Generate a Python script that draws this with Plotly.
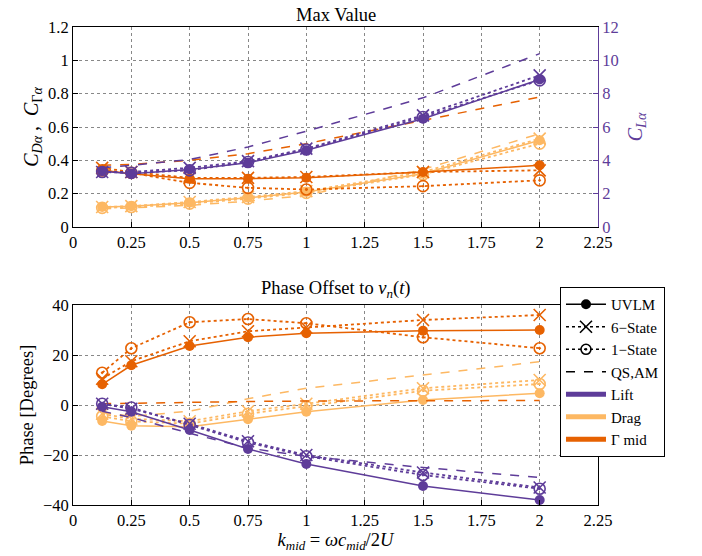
import plotly.graph_objects as go

k = [0.125, 0.25, 0.5, 0.75, 1.0, 1.5, 2.0]

# Max value (top) - lift on right axis (0-12), drag & gamma on left axis (0-1.2)
lift_max_uvlm = [3.35, 3.2, 3.45, 3.85, 4.6, 6.5, 8.85]
lift_max_6s = [3.3, 3.3, 3.55, 3.95, 4.7, 6.7, 9.1]
lift_max_1s = [3.3, 3.25, 3.4, 3.9, 4.65, 6.6, 8.8]
lift_max_qs = [3.55, 3.7, 4.05, 4.8, 5.75, 7.75, 10.4]

gam_max_uvlm = [0.34, 0.32, 0.29, 0.29, 0.295, 0.33, 0.37]
gam_max_6s = [0.355, 0.33, 0.295, 0.295, 0.30, 0.33, 0.34]
gam_max_1s = [0.34, 0.325, 0.265, 0.235, 0.225, 0.245, 0.28]
gam_max_qs = [0.37, 0.375, 0.40, 0.44, 0.50, 0.64, 0.78]

drag_max_uvlm = [0.12, 0.125, 0.145, 0.175, 0.21, 0.32, 0.52]
drag_max_6s = [0.12, 0.125, 0.15, 0.18, 0.215, 0.33, 0.53]
drag_max_1s = [0.115, 0.12, 0.14, 0.17, 0.205, 0.315, 0.50]
drag_max_qs = [0.11, 0.115, 0.13, 0.155, 0.19, 0.345, 0.56]

# Phase offset (bottom), degrees
gam_ph_uvlm = [8.3, 15.9, 23.6, 27.1, 28.7, 29.7, 30.0]
gam_ph_6s = [10.5, 17.5, 25.5, 29.5, 31.0, 34.0, 36.0]
gam_ph_1s = [12.9, 22.7, 33.1, 34.4, 32.7, 27.1, 22.7]
gam_ph_qs = [0.5, 0.7, 1.0, 1.4, 1.6, 1.8, 1.8]

drag_ph_uvlm = [-6.4, -8.3, -8.7, -5.7, -2.7, 2.0, 4.7]
drag_ph_6s = [-3.5, -5.5, -6.5, -2.5, 0.5, 6.7, 10.0]
drag_ph_1s = [-4.5, -6.5, -7.5, -3.5, -0.5, 5.7, 8.4]
drag_ph_qs = [-3.0, -4.5, -2.5, 2.5, 6.7, 12.0, 17.3]

lift_ph_uvlm = [-0.7, -2.7, -10.0, -17.6, -23.6, -32.4, -38.0]
lift_ph_6s = [0.5, -1.5, -7.5, -14.5, -20.0, -27.0, -33.0]
lift_ph_1s = [0.5, -1.0, -8.0, -15.0, -20.5, -28.0, -33.5]
lift_ph_qs = [-2.5, -5.0, -11.3, -17.2, -20.5, -25.0, -29.0]

x_ticks = [0, 0.25, 0.5, 0.75, 1, 1.25, 1.5, 1.75, 2, 2.25]
x_ticklabels = ["0", "0.25", "0.5", "0.75", "1", "1.25", "1.5", "1.75", "2", "2.25"]
yl_ticks = [0, 0.2, 0.4, 0.6, 0.8, 1.0, 1.2]
yl_ticklabels = ["0", "0.2", "0.4", "0.6", "0.8", "1", "1.2"]
yr_ticks = [0, 2, 4, 6, 8, 10, 12]
ph_ticks = [-40, -20, 0, 20, 40]
ph_ticklabels = ["\u221240", "\u221220", "0", "20", "40"]

PURPLE = "#5E3C99"
LIGHT = "#FDB863"
DARK = "#E66101"
FONT = "Liberation Serif"
TICK = 16.5
TITLE = 18.5

fig = go.Figure()

styles = {
    "uvlm": dict(dash="solid", symbol="circle", msize=10, mline=0),
    "6s": dict(dash="dot", symbol="x-thin-open", msize=12, mline=1.6),
    "1s": dict(dash="dot", symbol="circle-open-dot", msize=11, mline=1.6),
}

def add(y, color, kind, xa, ya):
    if kind == "qs":
        fig.add_trace(go.Scatter(x=k, y=y, mode="lines", xaxis=xa, yaxis=ya,
                                 line=dict(color=color, width=1.5, dash="dash"),
                                 showlegend=False, hoverinfo="skip"))
        return
    s = styles[kind]
    fig.add_trace(go.Scatter(
        x=k, y=y, mode="lines+markers", xaxis=xa, yaxis=ya,
        line=dict(color=color, width=1.5 if kind == "uvlm" else 1.8, dash=s["dash"]),
        marker=dict(symbol=s["symbol"], size=s["msize"], color=color,
                    line=dict(color=color, width=s["mline"])),
        showlegend=False, hoverinfo="skip"))

# top plot
for kind, y in [("qs", drag_max_qs), ("1s", drag_max_1s), ("6s", drag_max_6s), ("uvlm", drag_max_uvlm)]:
    add(y, LIGHT, kind, "x", "y")
for kind, y in [("qs", gam_max_qs), ("1s", gam_max_1s), ("6s", gam_max_6s), ("uvlm", gam_max_uvlm)]:
    add(y, DARK, kind, "x", "y")
for kind, y in [("qs", lift_max_qs), ("1s", lift_max_1s), ("6s", lift_max_6s), ("uvlm", lift_max_uvlm)]:
    add(y, PURPLE, kind, "x", "y2")

# bottom plot
for color, series in [
    (LIGHT, [("qs", drag_ph_qs), ("1s", drag_ph_1s), ("6s", drag_ph_6s), ("uvlm", drag_ph_uvlm)]),
    (DARK, [("qs", gam_ph_qs), ("1s", gam_ph_1s), ("6s", gam_ph_6s), ("uvlm", gam_ph_uvlm)]),
    (PURPLE, [("qs", lift_ph_qs), ("1s", lift_ph_1s), ("6s", lift_ph_6s), ("uvlm", lift_ph_uvlm)]),
]:
    for kind, y in series:
        add(y, color, kind, "x2", "y3")

# legend entries
leg = [
    ("UVLM", dict(color="black", width=1.5, dash="solid"), dict(symbol="circle", size=10, color="black"), "lines+markers"),
    ("6\u2212State", dict(color="black", width=1.5, dash="dot"), dict(symbol="x-thin-open", size=12, color="black", line=dict(color="black", width=1.6)), "lines+markers"),
    ("1\u2212State", dict(color="black", width=1.5, dash="dot"), dict(symbol="circle-open-dot", size=10, color="black", line=dict(color="black", width=1.6)), "lines+markers"),
    ("QS,AM", dict(color="black", width=1.5, dash="dash"), None, "lines"),
    ("Lift", dict(color=PURPLE, width=5), None, "lines"),
    ("Drag", dict(color=LIGHT, width=5), None, "lines"),
    ("\u0393 mid", dict(color=DARK, width=5), None, "lines"),
]
for name, ln, mk, mode in leg:
    tr = dict(x=[None], y=[None], mode=mode, name=name, line=ln, xaxis="x2", yaxis="y3",
              showlegend=True, hoverinfo="skip")
    if mk:
        tr["marker"] = mk
    fig.add_trace(go.Scatter(**tr))

axis_common = dict(showline=True, linecolor="black", linewidth=1, mirror=True,
                   ticks="inside", ticklen=5, tickcolor="black",
                   showgrid=True, gridcolor="#888888", griddash="dot", gridwidth=1,
                   zeroline=False, tickfont=dict(family=FONT, size=TICK, color="black"))

fig.update_layout(
    width=702, height=556,
    margin=dict(l=73, r=104, t=27, b=51),
    paper_bgcolor="white", plot_bgcolor="white",
    font=dict(family=FONT, size=TICK, color="black"),
    xaxis=dict(axis_common, domain=[0, 1], anchor="y", range=[0, 2.25],
               tickvals=x_ticks, ticktext=x_ticklabels),
    yaxis=dict(axis_common, domain=[0.5816, 1], anchor="x", range=[0, 1.2],
               tickvals=yl_ticks, ticktext=yl_ticklabels,
               title=dict(text="<i>C</i><sub><i>D\u03b1</i></sub> ,  <i>C</i><sub>\u0393<i>\u03b1</i></sub>",
                          font=dict(family=FONT, size=20), standoff=4)),
    yaxis2=dict(overlaying="y", side="right", anchor="x", range=[0, 12],
                tickvals=yr_ticks, showgrid=False, zeroline=False,
                showline=True, linecolor=PURPLE, linewidth=1,
                ticks="inside", ticklen=5, tickcolor=PURPLE,
                tickfont=dict(family=FONT, size=TICK, color=PURPLE),
                title=dict(text="<i>C</i><sub><i>L\u03b1</i></sub>",
                           font=dict(family=FONT, size=20, color=PURPLE), standoff=10)),
    xaxis2=dict(axis_common, domain=[0, 1], anchor="y3", range=[0, 2.25],
                tickvals=x_ticks, ticktext=x_ticklabels,
                title=dict(text="<i>k</i><sub><i>mid</i></sub> = <i>\u03c9c</i><sub><i>mid</i></sub>/2<i>U</i>",
                           font=dict(family=FONT, size=TITLE), standoff=2)),
    yaxis3=dict(axis_common, domain=[0, 0.4184], anchor="x2", range=[-40, 40],
                tickvals=ph_ticks, ticktext=ph_ticklabels,
                title=dict(text="Phase [Degrees]", font=dict(family=FONT, size=TITLE), standoff=4)),
    legend=dict(x=0.9276, y=0.456, xanchor="left", yanchor="top",
                bgcolor="white", bordercolor="black", borderwidth=1,
                font=dict(family=FONT, size=15), tracegroupgap=0,
                itemwidth=40),
    annotations=[
        dict(text="Max Value", x=0.5, y=1.0, xref="paper", yref="paper",
             xanchor="center", yanchor="bottom", yshift=0, showarrow=False,
             font=dict(family=FONT, size=TITLE)),
        dict(text="Phase Offset to <i>v</i><sub><i>n</i></sub>(<i>t</i>)", x=0.5, y=0.4184,
             xref="paper", yref="paper", xanchor="center", yanchor="bottom", yshift=2,
             showarrow=False, font=dict(family=FONT, size=TITLE)),
    ],
)

fig.write_html("out.html")
